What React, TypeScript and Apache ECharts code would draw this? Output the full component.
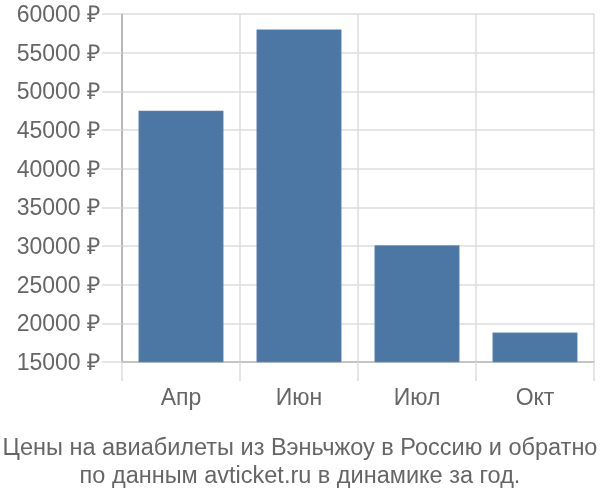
import React, { useEffect, useRef } from "react";
import * as echarts from "echarts";

const categories = ["Апр", "Июн", "Июл", "Окт"];
const prices = [47500, 58000, 30100, 18800];
const yMin = 15000;
const yMax = 60000;
const yStep = 5000;
const titleLines = [
  "Цены на авиабилеты из Вэньчжоу в Россию и обратно",
  "по данным avticket.ru в динамике за год.",
];

export default function App() {
  const ref = useRef<HTMLDivElement>(null);
  useEffect(() => {
    if (!ref.current) return;
    const chart = echarts.init(ref.current, undefined, { renderer: "svg" });
    const font = "'Liberation Sans', Arial, sans-serif";
    chart.setOption({
      animation: false,
      title: {
        text: titleLines.join("\n"),
        left: "center",
        top: 428,
        textStyle: {
          color: "#666",
          fontSize: 23.5,
          fontWeight: "normal",
          fontFamily: font,
          lineHeight: 28,
        },
      },
      grid: { left: 122, right: 6, top: 14, bottom: 138, containLabel: false },
      xAxis: {
        type: "category",
        data: categories,
        axisLine: { show: true, lineStyle: { color: "#bbb", width: 1.5 } },
        axisTick: {
          show: true,
          alignWithLabel: false,
          length: 19,
          lineStyle: { color: "#ddd", width: 1.5 },
        },
        splitLine: { show: true, lineStyle: { color: "#ddd", width: 1.5 } },
        axisLabel: { color: "#666", fontSize: 23, fontFamily: font, margin: 23 },
      },
      yAxis: {
        type: "value",
        min: yMin,
        max: yMax,
        interval: yStep,
        axisLine: { show: true, lineStyle: { color: "#aaa", width: 1.5 } },
        axisTick: { show: true, length: 20, lineStyle: { color: "#ddd", width: 1.5 } },
        splitLine: { show: true, lineStyle: { color: "#ddd", width: 1.5 } },
        axisLabel: {
          color: "#666",
          fontSize: 23,
          fontFamily: font,
          margin: 22,
          formatter: (v: number) => `${v} ₽`,
        },
      },
      series: [
        {
          type: "bar",
          data: prices,
          barWidth: "72%",
          itemStyle: { color: "#4c77a5", borderColor: "#6a8fb8", borderWidth: 0.5 },
        },
      ],
    });
    return () => chart.dispose();
  }, []);
  return (
    <div
      ref={ref}
      style={{ position: "fixed", left: 0, top: 0, width: 600, height: 500 }}
    />
  );
}
